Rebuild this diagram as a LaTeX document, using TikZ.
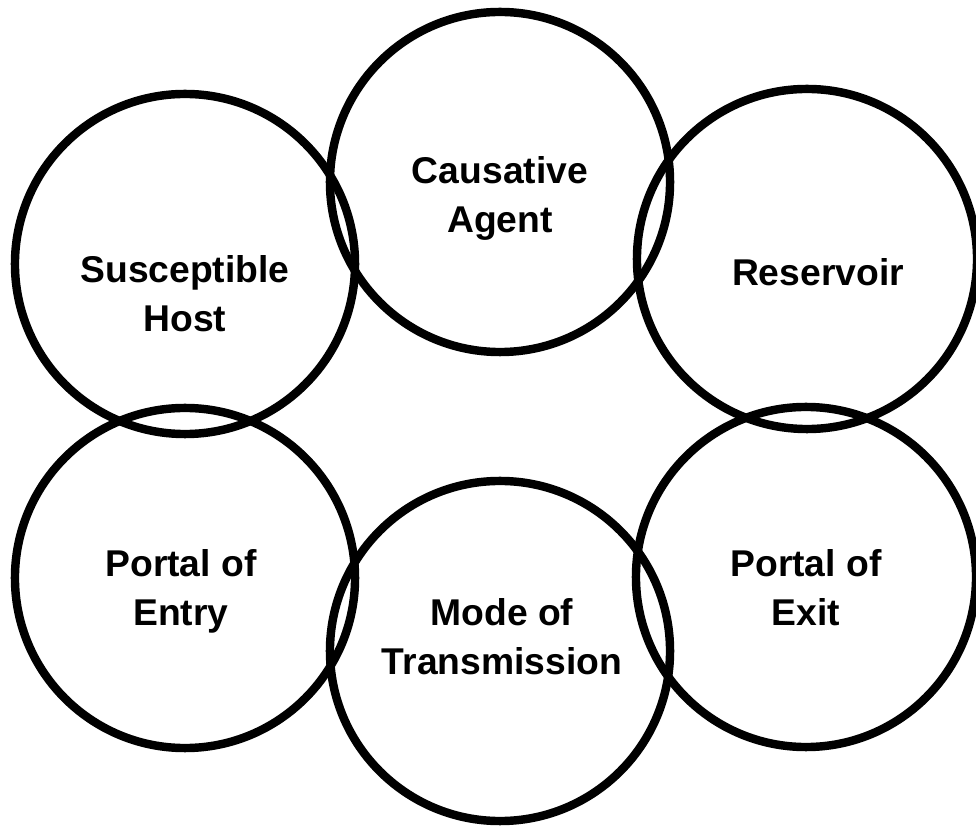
\documentclass[tikz,border=0pt]{standalone}
\usepackage{fontspec}
\setmainfont{Liberation Sans}
\usepackage{tikz}

\tikzset{
  elo/.style={circle, draw, line width=6pt, minimum size=8.5cm, inner sep=0pt},
  rotulo/.style={font=\bfseries\fontsize{26.5}{35}\selectfont, align=center, inner sep=0pt,
    execute at begin node=\strut, execute at end node=\strut}
}

\begin{document}
\begin{tikzpicture}[x=0.025cm, y=-0.025cm]
    \useasboundingbox (0,0) rectangle (976,826);

    % Elos da cadeia
    \foreach \nome/\x/\y in {hospedeiro/185/264, agente/500/182, reservatorio/807/259,
                             entrada/185/578, transmissao/500/651, saida/806/577}
        \node[elo] (\nome) at (\x,\y) {};

    % Rotulos
    \node[rotulo] (rhospedeiro) at (185,301) {Susceptible\\Host};
    \node[rotulo] (ragente) at (500,202) {Causative\\Agent};
    \node[rotulo] (rreservatorio) at (818,276) {Reservoir};
    \node[rotulo] (rentrada) at (181,595) {Portal of\\Entry};
    \node[rotulo] (rtransmissao) at (502,644) {Mode of\\Transmission};
    \node[rotulo] (rsaida) at (806,595) {Portal of\\Exit};
\end{tikzpicture}
\end{document}
